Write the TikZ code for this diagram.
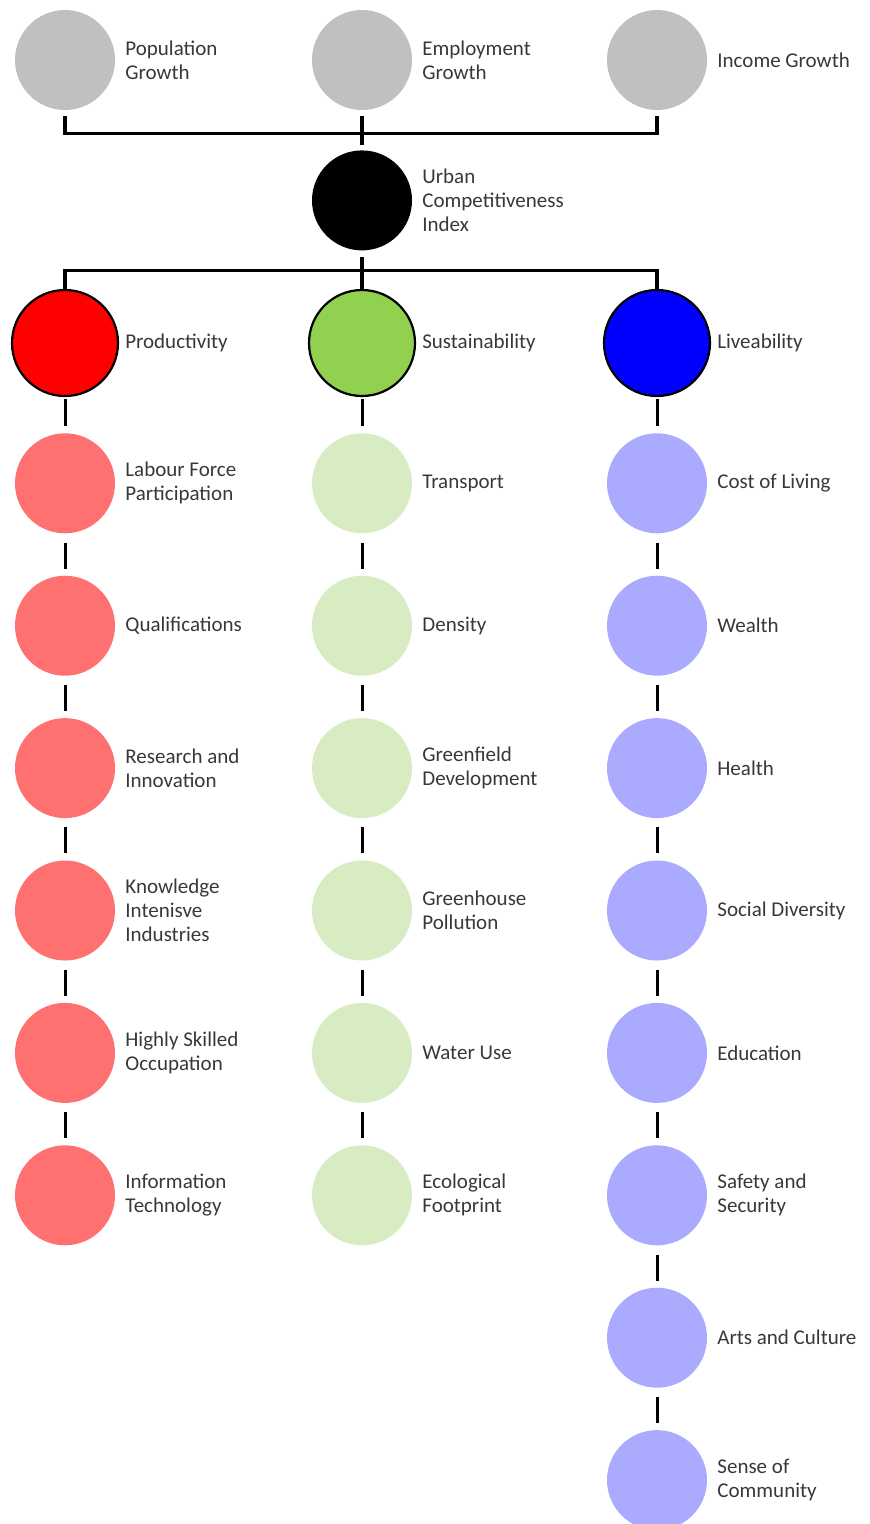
\documentclass[tikz,border=0pt]{standalone}
\usepackage{fontspec}
\setmainfont{Carlito}
\usepackage{xcolor}
\usetikzlibrary{positioning}

\definecolor{topgray}{RGB}{192,192,192}
\definecolor{prodred}{RGB}{255,0,0}
\definecolor{susgreen}{RGB}{146,208,80}
\definecolor{liveblue}{RGB}{0,0,255}
\definecolor{lightred}{RGB}{255,112,112}
\definecolor{lightgreen}{RGB}{216,236,196}
\definecolor{lightblue}{RGB}{170,170,255}
\definecolor{labelgray}{RGB}{56,56,56}

\begin{document}
\begin{tikzpicture}[
  x=1pt, y=1pt,
  node distance=42pt,
  lbl/.style={font=\fontsize{21}{24}\selectfont, text=labelgray, align=left, inner sep=1pt, xshift=9pt},
  biglbl/.style={lbl, xshift=-4pt},
  dot/.style={circle, minimum size=100pt, inner sep=0pt},
  bigdot/.style={circle, draw=black, line width=2.2pt, minimum size=106pt, inner sep=0pt},
  bar/.style={line width=3.2pt, line cap=rect},
  link/.style={line width=3pt}
]
\useasboundingbox (0,0) rectangle (870,-1524);

% drivers
\node[dot, fill=topgray, label={[lbl]right:{Population\\Growth}}] (pop) at (65,-60) {};
\node[dot, fill=topgray, label={[lbl]right:{Employment\\Growth}}] (emp) at (362,-60) {};
\node[dot, fill=topgray, label={[lbl]right:{Income Growth}}] (inc) at (657,-60) {};
\node[dot, fill=black, below=40pt of emp, label={[lbl]right:{Urban\\Competitiveness\\Index}}] (uci) {};

% pillars
\node[bigdot, fill=prodred, label={[biglbl]right:{Productivity}}] (prod) at (65,-343) {};
\node[bigdot, fill=susgreen, label={[biglbl]right:{Sustainability}}] (sus) at (362,-343) {};
\node[bigdot, fill=liveblue, label={[biglbl]right:{Liveability}}] (live) at (657,-343) {};

% productivity
\node[dot, fill=lightred, below=36pt of prod, label={[lbl]right:{Labour Force\\Participation}}] (lab) {};
\node[dot, fill=lightred, below=of lab, label={[lbl]right:{Qualifications}}] (qual) {};
\node[dot, fill=lightred, below=of qual, label={[lbl]right:{Research and\\Innovation}}] (res) {};
\node[dot, fill=lightred, below=of res, label={[lbl]right:{Knowledge\\Intenisve\\Industries}}] (know) {};
\node[dot, fill=lightred, below=of know, label={[lbl]right:{Highly Skilled\\Occupation}}] (skill) {};
\node[dot, fill=lightred, below=of skill, label={[lbl]right:{Information\\Technology}}] (info) {};

% sustainability
\node[dot, fill=lightgreen, below=36pt of sus, label={[lbl]right:{Transport}}] (trans) {};
\node[dot, fill=lightgreen, below=of trans, label={[lbl]right:{Density}}] (dens) {};
\node[dot, fill=lightgreen, below=of dens, label={[lbl]right:{Greenfield\\Development}}] (green) {};
\node[dot, fill=lightgreen, below=of green, label={[lbl]right:{Greenhouse\\Pollution}}] (ghg) {};
\node[dot, fill=lightgreen, below=of ghg, label={[lbl]right:{Water Use}}] (water) {};
\node[dot, fill=lightgreen, below=of water, label={[lbl]right:{Ecological\\Footprint}}] (eco) {};

% liveability
\node[dot, fill=lightblue, below=36pt of live, label={[lbl]right:{Cost of Living}}] (cost) {};
\node[dot, fill=lightblue, below=of cost, label={[lbl]right:{Wealth}}] (wealth) {};
\node[dot, fill=lightblue, below=of wealth, label={[lbl]right:{Health}}] (health) {};
\node[dot, fill=lightblue, below=of health, label={[lbl]right:{Social Diversity}}] (div) {};
\node[dot, fill=lightblue, below=of div, label={[lbl]right:{Education}}] (edu) {};
\node[dot, fill=lightblue, below=of edu, label={[lbl]right:{Safety and\\Security}}] (safe) {};
\node[dot, fill=lightblue, below=of safe, label={[lbl]right:{Arts and Culture}}] (arts) {};
\node[dot, fill=lightblue, below=of arts, label={[lbl]right:{Sense of\\Community}}] (comm) {};

% tree
\draw[bar] ([yshift=-7pt]pop.south) -- ++(0,-16) -| ([yshift=-7pt]inc.south);
\draw[bar] ([yshift=-7pt]emp.south) -- ([yshift=7pt]uci.north);
\draw[bar] ([yshift=-8pt]uci.south) -- ++(0,-12) coordinate (split);
\draw[bar] (prod.north) |- (split) -| (live.north);
\draw[bar] (split) -- (sus.north);

% chains
\draw[link] ([yshift=-2pt]prod.south) -- ([yshift=7pt]lab.north);
\draw[link] ([yshift=-9pt]lab.south) -- ([yshift=7pt]qual.north);
\draw[link] ([yshift=-9pt]qual.south) -- ([yshift=7pt]res.north);
\draw[link] ([yshift=-9pt]res.south) -- ([yshift=7pt]know.north);
\draw[link] ([yshift=-9pt]know.south) -- ([yshift=7pt]skill.north);
\draw[link] ([yshift=-9pt]skill.south) -- ([yshift=7pt]info.north);
\draw[link] ([yshift=-2pt]sus.south) -- ([yshift=7pt]trans.north);
\draw[link] ([yshift=-9pt]trans.south) -- ([yshift=7pt]dens.north);
\draw[link] ([yshift=-9pt]dens.south) -- ([yshift=7pt]green.north);
\draw[link] ([yshift=-9pt]green.south) -- ([yshift=7pt]ghg.north);
\draw[link] ([yshift=-9pt]ghg.south) -- ([yshift=7pt]water.north);
\draw[link] ([yshift=-9pt]water.south) -- ([yshift=7pt]eco.north);
\draw[link] ([yshift=-2pt]live.south) -- ([yshift=7pt]cost.north);
\draw[link] ([yshift=-9pt]cost.south) -- ([yshift=7pt]wealth.north);
\draw[link] ([yshift=-9pt]wealth.south) -- ([yshift=7pt]health.north);
\draw[link] ([yshift=-9pt]health.south) -- ([yshift=7pt]div.north);
\draw[link] ([yshift=-9pt]div.south) -- ([yshift=7pt]edu.north);
\draw[link] ([yshift=-9pt]edu.south) -- ([yshift=7pt]safe.north);
\draw[link] ([yshift=-9pt]safe.south) -- ([yshift=7pt]arts.north);
\draw[link] ([yshift=-9pt]arts.south) -- ([yshift=7pt]comm.north);
\end{tikzpicture}
\end{document}
